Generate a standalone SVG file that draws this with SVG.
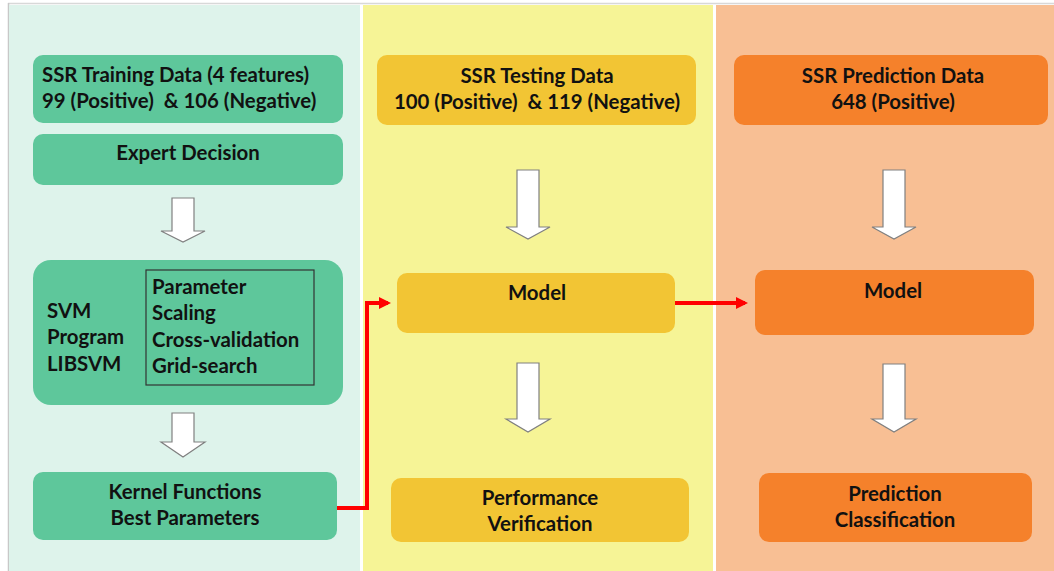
<svg xmlns="http://www.w3.org/2000/svg" width="1054" height="571" viewBox="0 0 1054 571">
  <defs>
    <style>
      .t { font-family: Lato, "Open Sans", "Liberation Sans", sans-serif; font-weight: bold; font-size: 20.4px; fill: #111; }
      .c { text-anchor: middle; }
      .green { fill: #5ec79b; }
      .yellow { fill: #f2c534; }
      .orange { fill: #f5812b; }
      .hollow { fill: #ffffff; stroke: #808080; stroke-width: 1.2; stroke-linejoin: miter; }
      .link { fill: none; stroke: #ff0000; stroke-width: 4; }
    </style>
    <marker id="redhead" markerWidth="12" markerHeight="12" refX="9" refY="6" orient="auto" markerUnits="userSpaceOnUse">
      <path d="M0,0 L12,6 L0,12 z" fill="#ff0000"/>
    </marker>
  </defs>

  <!-- page background and frame -->
  <rect x="0" y="0" width="1054" height="571" fill="#ffffff"/>
  <line x1="8" y1="3.5" x2="1054" y2="3.5" stroke="#d8d8d8" stroke-width="1.5"/>
  <line x1="8.5" y1="3" x2="8.5" y2="571" stroke="#c8c8c8" stroke-width="1.5"/>

  <!-- three stage panels -->
  <g id="panel-training"><rect x="9" y="5" width="351" height="566" fill="#def3eb"/></g>
  <g id="panel-testing"><rect x="363" y="5" width="350" height="566" fill="#f6f496"/></g>
  <g id="panel-prediction"><rect x="716" y="5" width="338" height="566" fill="#f8bf94"/></g>

  <!-- training column -->
  <g id="training-data">
    <rect class="green" x="33" y="55" width="310" height="68" rx="10"/>
    <text class="t" x="42" y="82">SSR Training Data (4 features)</text>
    <text class="t" x="42" y="108" xml:space="preserve">99 (Positive)  &amp; 106 (Negative)</text>
  </g>
  <g id="expert-decision">
    <rect class="green" x="33" y="134" width="310" height="51" rx="10"/>
    <text class="t c" x="188" y="160">Expert Decision</text>
  </g>
  <g id="svm-program">
    <rect class="green" x="33" y="260" width="310" height="145" rx="18"/>
    <rect x="146" y="270" width="168" height="115" fill="none" stroke="#333" stroke-width="1.2"/>
    <text class="t" x="47" y="318">SVM</text>
    <text class="t" x="47" y="344">Program</text>
    <text class="t" x="47" y="371">LIBSVM</text>
    <text class="t" x="152" y="294">Parameter</text>
    <text class="t" x="152" y="320">Scaling</text>
    <text class="t" x="152" y="347">Cross-validation</text>
    <text class="t" x="152" y="373">Grid-search</text>
  </g>
  <g id="kernel-functions">
    <rect class="green" x="33" y="472" width="304" height="68" rx="10"/>
    <text class="t c" x="185" y="499">Kernel Functions</text>
    <text class="t c" x="185" y="525">Best Parameters</text>
  </g>

  <!-- testing column -->
  <g id="testing-data">
    <rect class="yellow" x="377" y="55" width="319" height="70" rx="10"/>
    <text class="t c" x="537" y="83">SSR Testing Data</text>
    <text class="t c" x="537" y="109" xml:space="preserve">100 (Positive)  &amp; 119 (Negative)</text>
  </g>
  <g id="test-model">
    <rect class="yellow" x="397" y="273" width="278" height="60" rx="10"/>
    <text class="t c" x="537" y="300">Model</text>
  </g>
  <g id="performance-verification">
    <rect class="yellow" x="391" y="478" width="298" height="64" rx="10"/>
    <text class="t c" x="540" y="505">Performance</text>
    <text class="t c" x="540" y="531">Verification</text>
  </g>

  <!-- prediction column -->
  <g id="prediction-data">
    <rect class="orange" x="734" y="55" width="314" height="70" rx="10"/>
    <text class="t c" x="893" y="83">SSR Prediction Data</text>
    <text class="t c" x="893" y="109">648 (Positive)</text>
  </g>
  <g id="predict-model">
    <rect class="orange" x="755" y="270" width="279" height="65" rx="10"/>
    <text class="t c" x="893" y="298">Model</text>
  </g>
  <g id="prediction-classification">
    <rect class="orange" x="759" y="473" width="273" height="69" rx="10"/>
    <text class="t c" x="895" y="501">Prediction</text>
    <text class="t c" x="895" y="527">Classification</text>
  </g>

  <!-- connectors -->
  <g id="connectors">
    <!-- hollow block arrows within each column -->
    <path class="hollow" d="M172,198 H194 V231 H205 L183,242 L161,231 H172 Z"/>
    <path class="hollow" d="M172,413 H194 V442 H205 L183,457 L161,442 H172 Z"/>
    <path class="hollow" d="M517,170 H539 V227 H550 L528,239 L506,227 H517 Z"/>
    <path class="hollow" d="M517,363 H539 V419 H550 L528,432 L506,419 H517 Z"/>
    <path class="hollow" d="M883,170 H905 V227 H916 L894,239 L872,227 H883 Z"/>
    <path class="hollow" d="M883,364 H905 V419 H916 L894,432 L872,419 H883 Z"/>
    <!-- red flow links between columns -->
    <polyline class="link" points="337,508 367,508 367,303 388,303" marker-end="url(#redhead)"/>
    <line class="link" x1="675" y1="303" x2="745" y2="303" marker-end="url(#redhead)"/>
  </g>
</svg>
